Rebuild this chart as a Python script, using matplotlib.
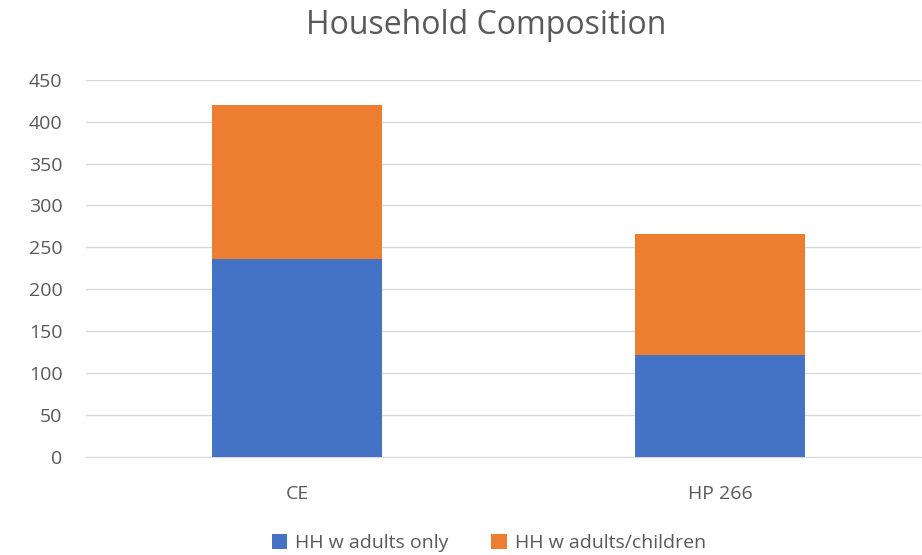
import matplotlib.pyplot as plt

categories = ["CE", "HP 266"]
adults_only = [236, 122]
adults_children = [184, 144]

series_names = ["HH w adults only", "HH w adults/children"]
colors = ["#4472C4", "#ED7D31"]
text_color = "#595959"

plt.rcParams["font.family"] = ["Open Sans", "DejaVu Sans"]

fig = plt.figure(figsize=(9.22, 5.55), dpi=100)
ax = fig.add_axes([86 / 922, 1 - 457 / 555, 835 / 922, (457 - 79.7) / 555])

x = range(len(categories))
ax.bar(x, adults_only, width=0.4, color=colors[0], label=series_names[0], zorder=3)
ax.bar(x, adults_children, width=0.4, bottom=adults_only, color=colors[1],
       label=series_names[1], zorder=3)

ax.set_ylim(0, 450)
ax.set_xlim(-0.499, 1.475)
ax.set_yticks(range(0, 451, 50))
ax.set_xticks(list(x))
ax.set_xticklabels(categories)
ax.yaxis.grid(True, color="#D9D9D9", linewidth=1, zorder=0)
ax.tick_params(axis="both", length=0, labelsize=14, colors=text_color)
ax.tick_params(axis="y", pad=17)
ax.tick_params(axis="x", pad=20)
for side in ["top", "right", "left"]:
    ax.spines[side].set_visible(False)
ax.spines["bottom"].set_color("#D9D9D9")

fig.text(0.527, 1 - 25 / 555, "Household Composition", ha="center", va="center",
         fontsize=23, color=text_color)

fig.legend(loc="center", bbox_to_anchor=(0.53, 1 - 543 / 555), ncol=2, frameon=False,
           fontsize=14, labelcolor=text_color, handlelength=0.8, handleheight=0.8,
           columnspacing=2.2, handletextpad=0.4)

fig.savefig("out.png", dpi=100)
